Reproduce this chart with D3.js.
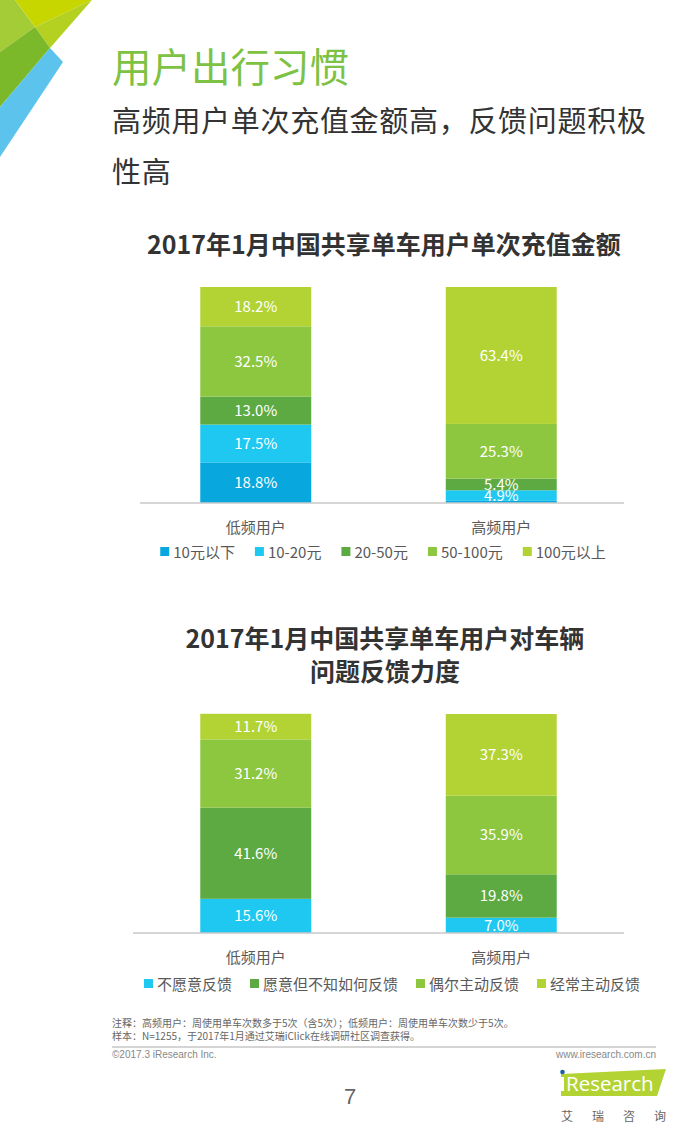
<!DOCTYPE html>
<html>
<head>
<meta charset="utf-8">
<script src="https://cdn.jsdelivr.net/npm/d3@7"></script>
<style>
  body { margin: 0; background: #fff; }
  svg { display: block; font-family: "Noto Sans CJK SC", "Noto Sans", sans-serif; }
</style>
</head>
<body>
<div id="page"></div>
<script>
// chart 1: recharge amount per top-up
const users = ["低频用户", "高频用户"];
const amountKeys = ["10元以下", "10-20元", "20-50元", "50-100元", "100元以上"];
const amountLow = [18.8, 17.5, 13.0, 32.5, 18.2];
const amountHigh = [1.0, 4.9, 5.4, 25.3, 63.4];

// chart 2: willingness to report bike problems
const feedbackKeys = ["不愿意反馈", "愿意但不知如何反馈", "偶尔主动反馈", "经常主动反馈"];
const feedbackLow = [15.6, 41.6, 31.2, 11.7];
const feedbackHigh = [7.0, 19.8, 35.9, 37.3];

const amountColors = ["#08a8de", "#1ec8f0", "#5daa43", "#8dc63f", "#b3d335"];
const feedbackColors = ["#1ec8f0", "#5daa43", "#8dc63f", "#b3d335"];

const W = 700, H = 1148;
const svg = d3.select("#page").append("svg")
    .attr("width", W)
    .attr("height", H);

svg.append("rect").attr("width", W).attr("height", H).attr("fill", "#fff");

// corner decoration
const deco = [
    { pts: [[0, 0], [15, 0], [35, 27], [0, 52]], c: "#a3cc37" },
    { pts: [[15, 0], [92, 0], [35, 27]], c: "#c8d600" },
    { pts: [[35, 27], [92, 0], [50, 48]], c: "#b4d020" },
    { pts: [[0, 52], [35, 27], [50, 48], [0, 107]], c: "#7cb92a" },
    { pts: [[50, 48], [63, 62], [0, 157], [0, 107]], c: "#5cc3ec" }
];
svg.selectAll(".deco").data(deco).join("polygon")
    .attr("points", d => d.pts.map(p => p.join(",")).join(" "))
    .attr("fill", d => d.c);

svg.append("text").attr("x", 112).attr("y", 82)
    .attr("font-size", 39.5).attr("fill", "#7dc243")
    .text("用户出行习惯");
svg.append("text").attr("x", 112).attr("y", 132)
    .attr("font-size", 29).attr("letter-spacing", 0.7).attr("fill", "#333")
    .text("高频用户单次充值金额高，反馈问题积极");
svg.append("text").attr("x", 112).attr("y", 183)
    .attr("font-size", 29).attr("letter-spacing", 0.7).attr("fill", "#333")
    .text("性高");

function drawChart(opt) {
    const rows = users.map((u, i) => {
        const r = { user: u };
        opt.keys.forEach((k, j) => r[k] = opt.values[i][j]);
        return r;
    });
    const stack = d3.stack().keys(opt.keys)(rows);

    const x = d3.scaleBand().domain(users)
        .range([133, 624])
        .paddingInner(0.548).paddingOuter(0.274);
    const y = d3.scaleLinear().domain([0, 100]).range([opt.base, opt.top]);
    const color = d3.scaleOrdinal().domain(opt.keys).range(opt.colors);

    const g = svg.append("g");

    opt.title.forEach((t, i) => {
        g.append("text").attr("x", opt.titleX).attr("y", opt.titleY + i * 33)
            .attr("text-anchor", "middle")
            .attr("font-size", 25).attr("font-weight", "bold").attr("fill", "#333")
            .text(t);
    });

    const layer = g.selectAll(".layer").data(stack).join("g")
        .attr("fill", d => color(d.key));
    layer.selectAll("rect").data(d => d).join("rect")
        .attr("x", d => x(d.data.user))
        .attr("width", x.bandwidth())
        .attr("y", d => y(d[1]))
        .attr("height", d => y(d[0]) - y(d[1]));

    layer.selectAll("text").data(d => d.filter(s => s[1] - s[0] >= 2)).join("text")
        .attr("x", d => x(d.data.user) + x.bandwidth() / 2)
        .attr("y", d => (y(d[0]) + y(d[1])) / 2)
        .attr("dy", "0.36em")
        .attr("text-anchor", "middle")
        .attr("font-size", 15).attr("fill", "#fff")
        .text(d => (d[1] - d[0]).toFixed(1) + "%");

    const axis = g.append("g")
        .attr("transform", `translate(0,${opt.base})`)
        .call(d3.axisBottom(x).tickSize(0).tickPadding(0));
    axis.select(".domain").remove();
    axis.append("line")
        .attr("x1", opt.axisX0).attr("x2", 624)
        .attr("stroke", "#c8c8c8").attr("stroke-width", 1.5);
    axis.selectAll(".tick text")
        .attr("y", 30).attr("dy", 0)
        .attr("font-family", "Noto Sans CJK SC")
        .attr("font-size", 15).attr("fill", "#595959");

    // legend, flowed and centred
    const leg = g.append("g").attr("transform", `translate(0,${opt.legendY})`);
    const items = leg.selectAll("g").data(opt.keys).join("g");
    items.append("rect").attr("y", -11).attr("width", 9).attr("height", 9)
        .attr("fill", d => color(d));
    items.append("text").attr("x", 13).attr("y", 0)
        .attr("font-size", 15).attr("fill", "#595959")
        .text(d => d);
    const widths = [];
    items.each(function () { widths.push(this.getBBox().width); });
    const total = d3.sum(widths) + opt.legendGap * (widths.length - 1);
    let cx = opt.legendX - total / 2;
    items.attr("transform", (d, i) => {
        const t = `translate(${cx},0)`;
        cx += widths[i] + opt.legendGap;
        return t;
    });
}

drawChart({
    title: ["2017年1月中国共享单车用户单次充值金额"],
    titleX: 384, titleY: 254,
    keys: amountKeys, values: [amountLow, amountHigh], colors: amountColors,
    top: 287, base: 503, axisX0: 140,
    legendY: 558, legendX: 383, legendGap: 20
});

drawChart({
    title: ["2017年1月中国共享单车用户对车辆", "问题反馈力度"],
    titleX: 385, titleY: 648,
    keys: feedbackKeys, values: [feedbackLow, feedbackHigh], colors: feedbackColors,
    top: 714, base: 933, axisX0: 133,
    legendY: 990, legendX: 392, legendGap: 18
});

// footer
const foot = svg.append("g").attr("fill", "#666").attr("font-size", 10);
foot.append("text").attr("x", 112).attr("y", 1027)
    .text("注释：高频用户：周使用单车次数多于5次（含5次）；低频用户：周使用单车次数少于5次。");
foot.append("text").attr("x", 112).attr("y", 1040)
    .text("样本：N=1255，于2017年1月通过艾瑞iClick在线调研社区调查获得。");
svg.append("line").attr("x1", 112).attr("x2", 656).attr("y1", 1047).attr("y2", 1047)
    .attr("stroke", "#aaa").attr("stroke-width", 1);
svg.append("text").attr("x", 112).attr("y", 1058)
    .attr("font-size", 10).attr("fill", "#888").attr("font-family", "Liberation Sans")
    .text("©2017.3  iResearch  Inc.");
svg.append("text").attr("x", 656).attr("y", 1058).attr("text-anchor", "end")
    .attr("font-size", 10).attr("fill", "#888").attr("font-family", "Liberation Sans")
    .text("www.iresearch.com.cn");
svg.append("text").attr("x", 350).attr("y", 1104).attr("text-anchor", "middle")
    .attr("font-size", 22).attr("fill", "#666").attr("font-family", "Liberation Sans")
    .text("7");

// logo
svg.append("polygon")
    .attr("points", "561,1074 666,1069 657,1096 561,1096")
    .attr("fill", "#b3d335");
svg.append("rect").attr("x", 561).attr("y", 1077).attr("width", 3).attr("height", 14).attr("fill", "#fff");
svg.append("circle").attr("cx", 562.5).attr("cy", 1072).attr("r", 2.3).attr("fill", "#1d5fa8");
svg.append("text").attr("x", 566).attr("y", 1091)
    .attr("font-size", 20.5).attr("fill", "#fff").attr("font-family", "Open Sans")
    .text("Research");
svg.append("text").attr("x", 561).attr("y", 1121)
    .attr("font-size", 12).attr("fill", "#666").attr("letter-spacing", 19)
    .text("艾瑞咨询");
</script>
</body>
</html>
